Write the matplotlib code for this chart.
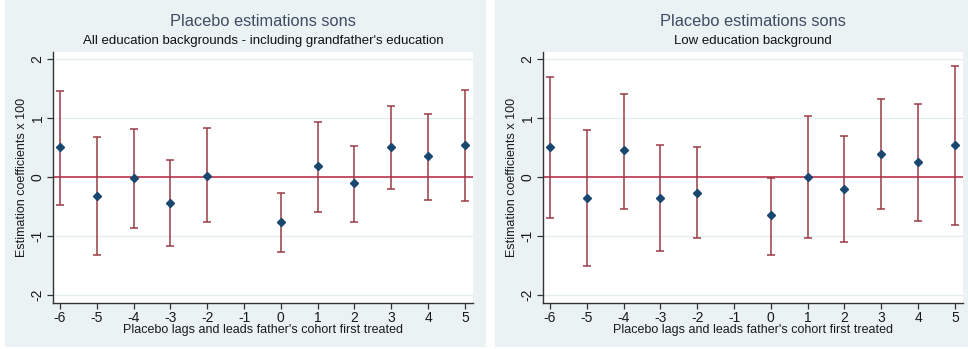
import matplotlib
matplotlib.use("Agg")
import matplotlib.pyplot as plt
from matplotlib.patches import Rectangle

# ---- data ----
lags = [-6, -5, -4, -3, -2, 0, 1, 2, 3, 4, 5]
xticks = [-6, -5, -4, -3, -2, -1, 0, 1, 2, 3, 4, 5]
yticks = [-2, -1, 0, 1, 2]

all_coef = [0.51, -0.32, -0.01, -0.44, 0.02, -0.77, 0.18, -0.11, 0.51, 0.35, 0.54]
all_hi = [1.45, 0.68, 0.81, 0.29, 0.83, -0.27, 0.93, 0.53, 1.20, 1.07, 1.47]
all_lo = [-0.47, -1.33, -0.86, -1.18, -0.77, -1.28, -0.59, -0.76, -0.21, -0.40, -0.41]

low_coef = [0.51, -0.36, 0.46, -0.36, -0.27, -0.65, 0.00, -0.20, 0.39, 0.25, 0.54]
low_hi = [1.69, 0.79, 1.41, 0.55, 0.50, -0.02, 1.03, 0.69, 1.33, 1.23, 1.88]
low_lo = [-0.69, -1.52, -0.54, -1.26, -1.03, -1.32, -1.03, -1.10, -0.55, -0.74, -0.81]

title = "Placebo estimations sons"
subtitles = ["All education backgrounds - including grandfather's education",
             "Low education background"]
xlabel = "Placebo lags and leads father's cohort first treated"
ylabel = "Estimation coefficients x 100"

# ---- style ----
W, H = 968, 349
BG = "#EAF2F3"
NAVY = "#1A476F"
MAROON = "#9A3A45"
ZERO = "#B3203D"
FONT = ["Liberation Sans", "DejaVu Sans"]
plt.rcParams["font.family"] = FONT
plt.rcParams["axes.unicode_minus"] = False

fig = plt.figure(figsize=(W / 100, H / 100), dpi=100)
fig.patch.set_facecolor("white")

panels = [
    dict(bg=(5, 486), ax=(53, 473), coef=all_coef, hi=all_hi, lo=all_lo, sub=subtitles[0]),
    dict(bg=(495, 968), ax=(543, 963), coef=low_coef, hi=low_hi, lo=low_lo, sub=subtitles[1]),
]

ax_top, ax_bot = 52, 303

for p in panels:
    x0, x1 = p["bg"]
    fig.add_artist(Rectangle((x0 / W, 2 / H), (x1 - x0) / W, 1 - 2 / H,
                             transform=fig.transFigure, facecolor=BG,
                             edgecolor="none", zorder=-10))
    a0, a1 = p["ax"]
    ax = fig.add_axes([a0 / W, (H - ax_bot) / H, (a1 - a0) / W, (ax_bot - ax_top) / H])
    ax.set_zorder(1)
    ax.set_facecolor("white")
    ax.set_xlim(-6.19, 5.22)
    ax.set_ylim(-2.14, 2.12)
    for g in [-2, -1, 1, 2]:
        ax.axhline(g, color="#E3ECEE", lw=0.9, zorder=1)
    ax.axhline(0, color=ZERO, lw=1.1, zorder=2)
    c = p["coef"]
    yerr = [[ci - l for ci, l in zip(c, p["lo"])], [h - ci for ci, h in zip(c, p["hi"])]]
    ax.errorbar(lags, c, yerr=yerr, fmt="none", ecolor=MAROON, elinewidth=1.1,
                capsize=3.2, capthick=1.1, zorder=3)
    ax.plot(lags, c, linestyle="none", marker="D", ms=4.2, color=NAVY, zorder=4)
    ax.set_xticks(xticks)
    ax.set_yticks(yticks)
    ax.tick_params(axis="both", direction="out", length=4, width=0.9, color="#333333",
                   labelsize=10, labelcolor="#1A1A1A", pad=2)
    for lab in ax.get_yticklabels():
        lab.set_rotation(90)
        lab.set_va("center")
    for s in ["top", "right"]:
        ax.spines[s].set_visible(False)
    for s in ["left", "bottom"]:
        ax.spines[s].set_color("#333333")
        ax.spines[s].set_linewidth(1.0)
    ax.set_xlabel(xlabel, fontsize=9, color="#1A1A1A", labelpad=-1)
    ax.set_ylabel(ylabel, fontsize=9, color="#1A1A1A", labelpad=2)
    cx = (a0 + a1) / 2 / W
    fig.text(cx, 1 - 22 / H, title, ha="center", va="center", fontsize=11.8, color="#3E4B63")
    fig.text(cx, 1 - 41 / H, p["sub"], ha="center", va="center", fontsize=9.5, color="#111111")

fig.savefig("out.png", dpi=100, facecolor="white")
